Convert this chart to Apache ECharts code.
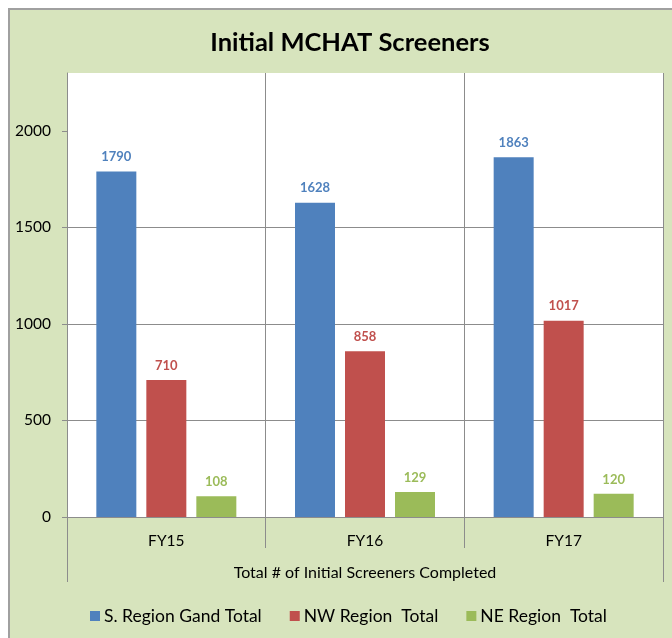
<!DOCTYPE html>
<html>
<head>
<meta charset="utf-8">
<script src="https://cdn.jsdelivr.net/npm/echarts@6/dist/echarts.min.js"></script>
<style>
html,body{margin:0;padding:0;background:#fff;}
#frame{position:absolute;left:8px;top:8px;width:720px;height:700px;background:#d7e4bd;border-left:2px solid #a0a0a0;border-top:2px solid #a0a0a0;}
#main{position:absolute;left:0;top:0;width:672px;height:638px;}
</style>
</head>
<body>
<div id="frame"></div>
<div id="main"></div>
<script>
const categories = ['FY15', 'FY16', 'FY17'];
const groupLabel = ['Total # of Initial Screeners Completed'];
const seriesNames = ['S. Region Gand Total', 'NW Region  Total', 'NE Region  Total'];
const sRegion = [1790, 1628, 1863];
const nwRegion = [710, 858, 1017];
const neRegion = [108, 129, 120];
const yTicks = [0, 500, 1000, 1500, 2000];
const colors = ['#4f81bd', '#c0504d', '#9bbb59'];
const FONT = 'Lato';

const chart = echarts.init(document.getElementById('main'), null, {renderer: 'canvas'});
const values = [sRegion, nwRegion, neRegion];
const gray = '#8c8c8c';

chart.setOption({
  backgroundColor: 'transparent',
  textStyle: {fontFamily: FONT},
  title: {
    text: 'Initial MCHAT Screeners',
    left: 345, textAlign: 'center', top: 25,
    textStyle: {fontFamily: FONT, fontSize: 25.5, fontWeight: 'bold', color: '#000'}
  },
  legend: {
    data: seriesNames,
    left: 85, top: 602,
    icon: 'rect', itemWidth: 10, itemHeight: 10, itemGap: 28,
    textStyle: {fontFamily: FONT, fontSize: 17.5, color: '#000', padding: [0,0,0,-1]}
  },
  grid: {left: 67, right: 9, top: 73, bottom: 121, show: true, backgroundColor: '#fff', borderWidth: 0},
  xAxis: [{
    type: 'category', data: categories, position: 'bottom',
    axisLine: {show: true, lineStyle: {color: gray, width: 1}},
    axisTick: {show: true, length: 31, interval: 0, lineStyle: {color: gray}},
    splitLine: {show: true, interval: 0, lineStyle: {color: gray, width: 1}},
    axisLabel: {fontFamily: FONT, fontSize: 15.5, color: '#000', margin: 16}
  }, {
    type: 'category', data: groupLabel, position: 'bottom',
    axisLine: {show: false},
    axisTick: {show: true, length: 65, lineStyle: {color: gray}},
    axisLabel: {fontFamily: FONT, fontSize: 16, color: '#000', margin: 48}
  }],
  yAxis: {
    type: 'value', min: 0, max: 2300, interval: 500,
    axisLine: {show: true, lineStyle: {color: gray}},
    axisTick: {show: true, length: 5, lineStyle: {color: gray}, customValues: yTicks},
    axisLabel: {fontFamily: FONT, fontSize: 15.5, color: '#000', margin: 16, customValues: yTicks,
      formatter: v => String(v)},
    splitLine: {show: true, showMaxLine: false, lineStyle: {color: gray, width: 1}}
  },
  series: seriesNames.map((n, i) => ({
    name: n, type: 'bar', data: values[i], xAxisIndex: 0,
    barWidth: 40, barGap: '25%',
    itemStyle: {color: colors[i]},
    label: {show: true, position: 'top', distance: 8, color: colors[i], fontFamily: FONT, fontSize: 13, fontWeight: 'bold'}
  }))
});
</script>
</body>
</html>
